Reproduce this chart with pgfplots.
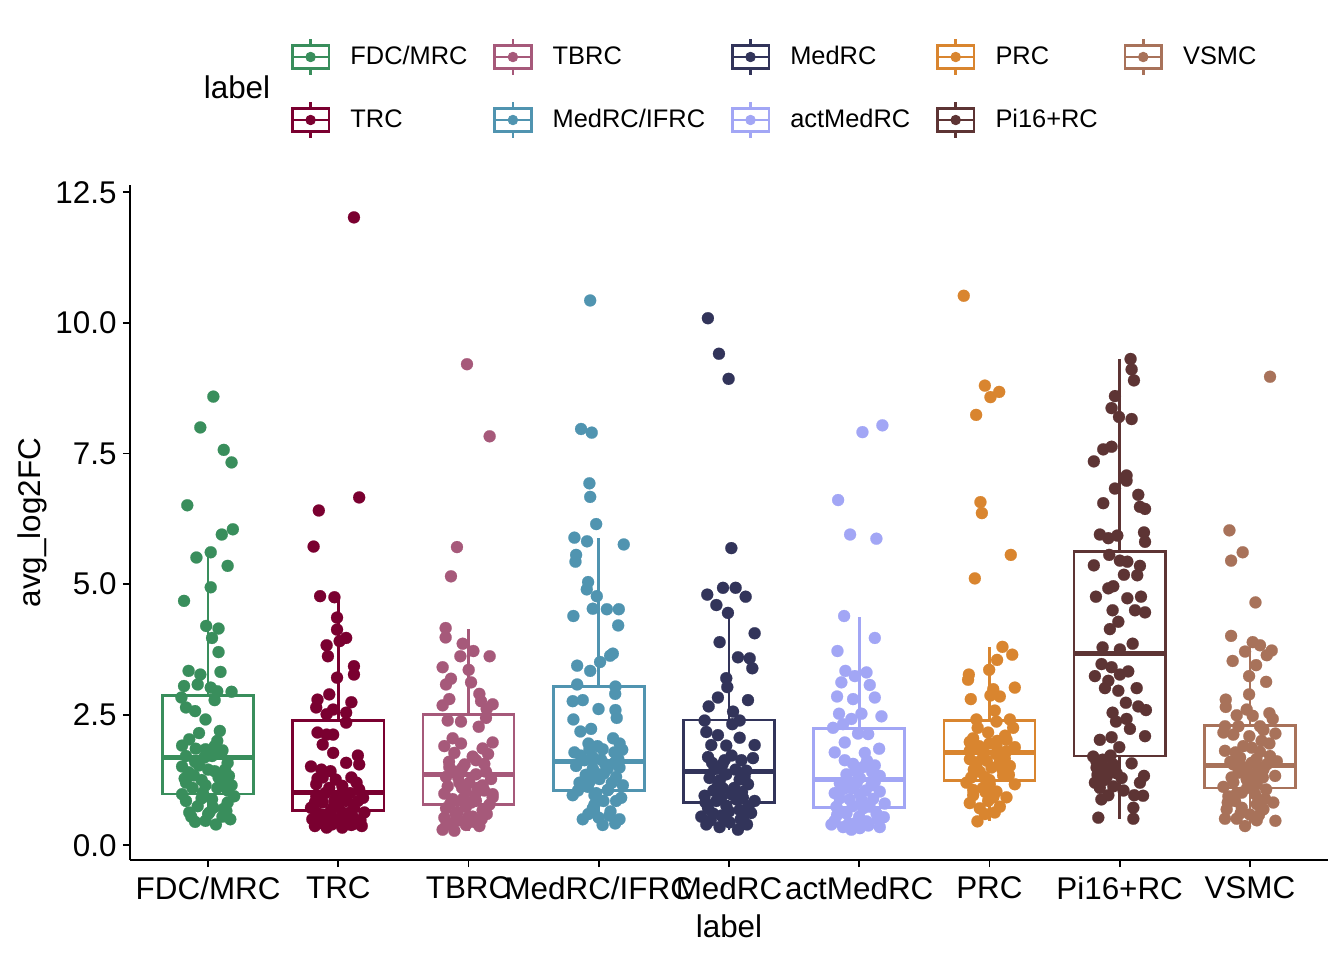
\documentclass[border=0pt]{standalone}
\usepackage{fontspec}
\setmainfont{Liberation Sans}
\usepackage{pgfplots}
\pgfplotsset{compat=1.18}
\usepgfplotslibrary{statistics}
\definecolor{c1}{RGB}{57,142,92}
\definecolor{c2}{RGB}{122,0,48}
\definecolor{c3}{RGB}{166,89,122}
\definecolor{c4}{RGB}{80,148,176}
\definecolor{c5}{RGB}{50,52,90}
\definecolor{c6}{RGB}{162,166,245}
\definecolor{c7}{RGB}{217,133,47}
\definecolor{c8}{RGB}{93,52,52}
\definecolor{c9}{RGB}{168,114,90}
\newcommand\bigf{\fontsize{15.7}{18.8}\selectfont}
\newcommand\legf{\fontsize{12.7}{15}\selectfont}
\pgfplotsset{
  mylegend/.style={legend image code/.code={
    \draw[line width=1.3pt, fill=none] (9.15pt,5.85pt) -- (9.15pt,9.2pt);
    \draw[line width=1.3pt, fill=none] (9.15pt,-5.85pt) -- (9.15pt,-9.2pt);
    \draw[line width=1.3pt, fill=none] (0pt,-5.85pt) rectangle (18.3pt,5.85pt);
    \draw[line width=1.3pt, fill=none] (0pt,0pt) -- (18.3pt,0pt);
    \fill (9.15pt,0pt) circle (2.4pt);
    \path (28.85pt,0pt);
  }},
  bp/.style={line width=1.3pt, solid, forget plot, fill=none},
  pts/.style={only marks, mark=*, mark size=3pt, forget plot, mark options={line width=0.1pt}},
}
\begin{document}
\begin{tikzpicture}
\path[use as bounding box] (-65pt,-50pt) rectangle (607pt,430pt);
\begin{axis}[
  at={(0pt,0pt)}, anchor=south west,
  scale only axis, width=599pt, height=337.5pt,
  xmin=0.4, xmax=9.6, ymin=-0.28, ymax=12.64,
  clip=false,
  axis x line=bottom, axis y line=left,
  axis line style={-, line width=0.9pt, black},
  tick align=outside, major tick length=3.5pt,
  tick style={line width=0.9pt, black},
  xtick={1,2,3,4,5,6,7,8,9},
  xticklabels={FDC/MRC,TRC,TBRC,MedRC/IFRC,MedRC,actMedRC,PRC,Pi16+RC,VSMC},
  ytick={0,2.5,5,7.5,10,12.5},
  ticklabel style={font=\bigf, black},
  xticklabel style={yshift=-1.5pt},
  yticklabel style={inner xsep=3pt, /pgf/number format/.cd, fixed, fixed zerofill, precision=1, assume math mode=true},
  xlabel={label}, ylabel={avg\_log2FC},
  label style={font=\bigf},
  xlabel style={at={(axis description cs:0.5,-0.0978)}, anchor=center},
  ylabel style={at={(axis description cs:-0.0818,0.5)}, anchor=center},
  boxplot/draw direction=y,
  boxplot/every median/.style={line width=2.5pt},
  legend columns=5,
  legend cell align=left,
  legend style={at={(0.1344,1.2188)}, anchor=north west, draw=none, fill=none,
    inner sep=0pt, outer sep=0pt, row sep=11.8pt, font=\legf,
    nodes={inner sep=0pt},
    /tikz/every even column/.append style={column sep=12.9pt}},
]
% ---- legend images (row-major order as in the reference)
\addlegendimage{mylegend, color=c1}\addlegendentry{FDC/MRC}
\addlegendimage{mylegend, color=c3}\addlegendentry{TBRC}
\addlegendimage{mylegend, color=c5}\addlegendentry{MedRC}
\addlegendimage{mylegend, color=c7}\addlegendentry{PRC}
\addlegendimage{mylegend, color=c9}\addlegendentry{VSMC}
\addlegendimage{mylegend, color=c2}\addlegendentry{TRC}
\addlegendimage{mylegend, color=c4}\addlegendentry{MedRC/IFRC}
\addlegendimage{mylegend, color=c6}\addlegendentry{actMedRC}
\addlegendimage{mylegend, color=c8}\addlegendentry{Pi16+RC}

% ---- boxplots
\addplot[bp, draw=c1, boxplot prepared={draw position=1, lower whisker=0.40, lower quartile=0.98, median=1.68, upper quartile=2.87, upper whisker=5.61, box extend=0.7, whisker extend=0}] coordinates {};
\addplot[bp, draw=c2, boxplot prepared={draw position=2, lower whisker=0.34, lower quartile=0.67, median=1.02, upper quartile=2.39, upper whisker=4.77, box extend=0.7, whisker extend=0}] coordinates {};
\addplot[bp, draw=c3, boxplot prepared={draw position=3, lower whisker=0.28, lower quartile=0.78, median=1.36, upper quartile=2.50, upper whisker=4.14, box extend=0.7, whisker extend=0}] coordinates {};
\addplot[bp, draw=c4, boxplot prepared={draw position=4, lower whisker=0.39, lower quartile=1.05, median=1.61, upper quartile=3.04, upper whisker=5.88, box extend=0.7, whisker extend=0}] coordinates {};
\addplot[bp, draw=c5, boxplot prepared={draw position=5, lower whisker=0.30, lower quartile=0.82, median=1.41, upper quartile=2.40, upper whisker=4.50, box extend=0.7, whisker extend=0}] coordinates {};
\addplot[bp, draw=c6, boxplot prepared={draw position=6, lower whisker=0.30, lower quartile=0.73, median=1.27, upper quartile=2.24, upper whisker=4.38, box extend=0.7, whisker extend=0}] coordinates {};
\addplot[bp, draw=c7, boxplot prepared={draw position=7, lower whisker=0.46, lower quartile=1.24, median=1.77, upper quartile=2.39, upper whisker=3.80, box extend=0.7, whisker extend=0}] coordinates {};
\addplot[bp, draw=c8, boxplot prepared={draw position=8, lower whisker=0.50, lower quartile=1.71, median=3.67, upper quartile=5.63, upper whisker=9.31, box extend=0.7, whisker extend=0}] coordinates {};
\addplot[bp, draw=c9, boxplot prepared={draw position=9, lower whisker=0.37, lower quartile=1.10, median=1.53, upper quartile=2.30, upper whisker=3.95, box extend=0.7, whisker extend=0}] coordinates {};

% ---- jittered points
\addplot[pts, color=c1] coordinates {
(1.04,8.59) (0.94,8.00) (1.12,7.57) (1.18,7.33) (0.84,6.51) (1.19,6.05) (1.105,5.95) (1.02,5.61) (0.91,5.51) (1.15,5.35) (1.02,4.94) (0.815,4.68) (0.985,4.20) (1.08,4.15) (1.03,3.97) (1.08,3.70) (0.85,3.34) (1.095,3.32) (0.94,3.27) (0.815,3.05) (0.92,3.08) (1.02,3.02) (1.07,2.95) (1.18,2.94) (0.795,2.83) (1.05,2.78) (0.83,2.64) (0.90,2.57) (0.98,2.41) (1.09,2.19) (0.855,2.03) (0.80,1.91) (1.07,2.00) (0.905,1.85) (0.98,1.84) (1.11,1.82) (0.83,1.71) (1.03,1.71) (1.15,1.58) (0.80,1.51) (0.93,1.53) (1.05,1.42) (0.89,1.34) (1.16,1.33) (0.83,1.20) (0.98,1.15) (1.10,1.20) (0.80,0.98) (0.96,1.01) (1.20,0.94) (0.83,0.85) (1.03,0.88) (1.15,0.82) (0.855,0.63) (1.01,0.63) (1.14,0.66) (0.98,0.47) (1.06,0.40) (1.17,0.50) (1.11,0.55) (0.90,1.60) (1.00,1.45) (1.10,1.75) (0.95,1.25) (1.05,1.90) (0.85,1.40) (1.15,1.05) (0.92,0.75) (1.00,0.60) (1.08,1.30) (0.88,1.10) (1.12,0.70)
(0.87,0.55) (0.95,0.90) (1.07,1.10) (1.13,1.45) (0.82,1.28) (0.97,1.68) (1.04,0.72) (0.90,0.45) (1.18,1.15) (0.93,2.15)
};
\addplot[pts, color=c2] coordinates {
(2.12,12.02) (2.16,6.66) (1.85,6.41) (1.81,5.72) (1.86,4.77) (1.97,4.75) (1.99,4.36) (1.99,4.13) (2.06,3.97) (2.01,3.91) (1.91,3.83) (1.92,3.62) (2.12,3.43) (2.12,3.27) (1.99,3.21) (1.93,2.89) (1.84,2.79) (2.10,2.74) (1.83,2.64) (1.96,2.60) (2.06,2.54) (1.91,2.51) (2.06,2.35) (1.84,2.16) (1.91,2.12) (1.96,2.12) (1.88,1.93) (1.96,1.77) (2.15,1.72) (2.06,1.58) (2.16,1.55) (1.79,1.51) (1.87,1.45) (1.94,1.42) (1.88,1.30) (1.98,1.26) (2.10,1.30) (1.83,1.17) (1.93,1.10) (2.03,1.14) (2.16,1.07) (1.83,0.94) (1.98,0.91) (2.19,0.91) (1.88,0.82) (2.06,0.85) (1.79,0.72) (1.96,0.72) (2.12,0.72) (1.83,0.63) (2.03,0.63) (2.20,0.63) (1.91,0.56) (2.11,0.55) (1.80,0.50) (1.98,0.47) (2.17,0.48) (1.82,0.37) (1.91,0.34) (2.03,0.34) (2.18,0.37) (1.95,0.40) (2.10,0.39) (1.85,0.60) (2.00,0.75) (2.15,0.85) (1.90,1.00) (2.05,0.45) (1.95,0.55) (2.08,0.62) (1.88,0.42) (2.02,0.98)
(1.82,0.82) (1.94,0.65) (2.07,0.55) (2.13,0.42) (1.86,0.52) (2.01,0.43) (1.97,0.85) (2.09,1.00) (1.84,1.28) (2.14,1.20)
};
\addplot[pts, color=c3] coordinates {
(2.988,9.21) (3.162,7.83) (2.911,5.71) (2.865,5.15) (2.824,4.16) (2.824,3.98) (2.955,3.86) (3.037,3.72) (2.937,3.62) (3.162,3.62) (2.801,3.41) (3.001,3.36) (2.865,3.19) (3.019,3.12) (2.827,3.08) (3.083,2.90) (2.852,2.80) (3.185,2.70) (2.801,2.68) (3.139,2.61) (3.096,2.76) (2.84,2.39) (2.942,2.37) (3.134,2.44) (3.078,2.27) (2.878,2.05) (2.814,1.90) (2.942,1.95) (3.185,1.97) (3.108,1.855) (2.891,1.77) (3.032,1.70) (2.852,1.50) (3.121,1.56) (2.955,1.49) (3.057,1.36) (2.827,1.31) (3.173,1.27) (2.929,1.20) (3.108,1.15) (2.814,0.99) (2.98,1.03) (3.185,0.98) (2.878,0.885) (3.057,0.85) (3.16,0.78) (2.827,0.71) (2.98,0.74) (2.916,0.64) (3.108,0.67) (2.814,0.53) (3.032,0.55) (2.878,0.43) (2.98,0.39) (3.083,0.37) (2.801,0.30) (2.891,0.28) (3.185,0.92) (3.006,1.20) (2.955,0.85) (3.134,1.41) (2.904,1.41) (3.057,1.63) (2.84,1.13) (2.95,1.10) (3.05,0.95) (2.90,0.60) (3.10,0.50) (2.85,1.60) (3.00,0.55) (3.12,1.05) (2.96,0.90)
(2.83,0.40) (2.93,0.48) (3.04,0.45) (3.14,0.60) (2.86,0.80) (3.02,0.82) (2.92,1.30) (3.07,1.10) (2.97,1.55) (3.15,1.75)
};
\addplot[pts, color=c4] coordinates {
(3.934,10.43) (3.864,7.97) (3.946,7.90) (3.928,6.93) (3.934,6.67) (3.98,6.15) (3.813,5.89) (3.91,5.82) (4.192,5.76) (3.826,5.56) (3.821,5.43) (3.918,5.04) (3.908,4.90) (3.985,4.77) (3.805,4.39) (3.954,4.53) (4.062,4.52) (4.154,4.52) (4.149,4.21) (4.108,3.67) (4.087,3.63) (3.834,3.44) (4.010,3.51) (3.934,3.34) (3.834,3.08) (4.128,3.04) (4.126,2.90) (3.80,2.76) (3.877,2.78) (3.998,2.61) (4.128,2.59) (4.138,2.44) (3.805,2.41) (3.859,2.18) (3.941,2.23) (3.921,1.95) (3.813,1.78) (3.928,1.84) (4.12,1.78) (4.18,1.83) (4.018,1.64) (3.826,1.52) (3.954,1.47) (4.069,1.47) (4.159,1.49) (3.852,1.20) (4.005,1.27) (4.133,1.31) (3.916,1.12) (4.069,1.06) (4.185,1.15) (3.80,0.96) (3.967,0.96) (4.036,0.85) (4.133,0.85) (3.967,0.78) (4.172,0.91) (3.877,0.50) (4.0,0.53) (4.082,0.57) (4.126,0.42) (4.03,0.39) (4.159,0.50) (3.954,0.71) (4.07,1.06) (3.89,1.63) (4.03,1.84) (4.11,2.05) (3.95,1.70) (4.05,1.55) (3.90,1.35) (4.10,1.20) (3.98,1.00) (4.15,1.65)
(3.84,1.05) (3.93,1.22) (4.04,1.38) (4.12,1.58) (3.86,1.72) (3.99,1.90) (4.09,0.65) (3.92,0.60) (4.16,1.95) (3.97,1.40)
};
\addplot[pts, color=c5] coordinates {
(4.838,10.09) (4.923,9.41) (4.997,8.93) (5.018,5.69) (4.833,4.80) (4.954,4.93) (5.051,4.93) (5.128,4.76) (4.903,4.60) (4.992,4.45) (5.197,4.06) (4.928,3.89) (5.069,3.60) (5.159,3.58) (5.179,3.39) (4.979,3.20) (4.987,3.03) (4.915,2.83) (5.146,2.78) (4.844,2.66) (5.031,2.56) (4.813,2.39) (5.025,2.32) (5.082,2.39) (4.826,2.17) (4.915,2.11) (5.082,2.06) (4.864,1.92) (4.979,1.91) (5.197,1.92) (4.839,1.69) (4.966,1.63) (5.095,1.63) (5.184,1.67) (4.851,1.29) (4.979,1.36) (5.082,1.26) (5.146,1.17) (4.915,1.14) (4.813,0.95) (5.018,0.98) (5.107,0.91) (5.197,0.85) (4.903,0.85) (4.839,0.71) (4.979,0.76) (5.082,0.68) (4.787,0.55) (4.941,0.57) (5.12,0.59) (4.826,0.40) (4.928,0.35) (5.069,0.30) (5.138,0.40) (5.005,0.44) (4.877,0.61) (5.056,0.88) (4.954,1.09) (5.133,1.43) (4.89,1.46) (4.95,1.55) (5.05,1.45) (4.88,1.05) (5.0,0.65) (5.15,0.75) (4.93,1.25) (5.04,1.10)
(4.86,0.48) (4.96,0.52) (5.09,0.50) (5.17,0.62) (4.82,0.82) (4.94,0.92) (5.10,1.02) (4.87,1.58) (5.02,1.72) (5.12,1.32)
};
\addplot[pts, color=c6] coordinates {
(6.178,8.04) (6.025,7.91) (5.838,6.61) (5.93,5.95) (6.132,5.87) (5.884,4.39) (6.12,3.97) (5.833,3.72) (5.894,3.34) (6.056,3.31) (5.966,3.24) (5.863,3.12) (6.081,3.07) (6.12,2.83) (5.83,2.85) (5.953,2.80) (5.845,2.52) (6.017,2.52) (6.171,2.47) (5.94,2.42) (5.799,2.25) (5.876,2.32) (5.991,2.14) (6.069,2.13) (5.889,1.97) (6.153,1.85) (5.812,1.78) (6.043,1.77) (5.889,1.63) (5.953,1.56) (6.12,1.53) (6.03,1.50) (5.902,1.36) (6.005,1.29) (6.158,1.33) (5.851,1.19) (6.094,1.15) (5.94,1.09) (5.812,1.00) (6.158,1.03) (6.005,0.98) (5.927,0.88) (6.107,0.89) (6.196,0.80) (5.825,0.74) (6.03,0.71) (5.902,0.61) (6.133,0.61) (6.189,0.54) (5.812,0.47) (5.979,0.44) (6.056,0.46) (5.876,0.35) (5.94,0.30) (6.005,0.33) (6.158,0.35) (5.787,0.40) (6.08,0.74) (5.98,1.19) (5.90,1.20) (6.05,1.05) (5.95,0.75) (6.10,1.40) (5.85,0.90) (6.00,0.55)
(5.83,0.58) (5.92,0.42) (6.07,0.38) (6.14,0.50) (5.87,0.64) (6.02,0.86) (6.12,1.22) (5.88,1.08) (5.97,1.42) (6.06,1.62)
};
\addplot[pts, color=c7] coordinates {
(6.803,10.52) (6.965,8.80) (7.075,8.68) (7.008,8.58) (6.898,8.24) (6.931,6.57) (6.942,6.36) (7.164,5.56) (6.888,5.11) (7.10,3.80) (7.175,3.65) (7.059,3.55) (6.998,3.36) (6.842,3.27) (6.836,3.17) (7.195,3.02) (7.029,2.99) (6.857,2.80) (7.08,2.85) (7.008,2.87) (7.041,2.58) (6.90,2.41) (7.182,2.25) (7.054,2.37) (6.875,2.05) (6.99,2.16) (7.131,2.02) (7.195,1.88) (6.849,1.81) (7.054,1.91) (6.952,1.70) (7.093,1.70) (6.90,1.59) (7.157,1.52) (7.016,1.49) (6.824,1.20) (6.965,1.31) (7.105,1.34) (7.195,1.17) (6.875,1.06) (7.054,1.03) (7.131,0.92) (6.849,0.81) (6.99,0.85) (7.08,0.74) (6.926,0.71) (7.041,0.63) (6.965,0.60) (6.908,0.46) (6.875,0.96) (7.003,1.17) (6.926,1.41) (7.118,1.66) (6.849,1.98) (7.157,2.41) (6.95,1.85) (7.05,1.75) (6.90,1.55) (7.10,1.45) (7.00,1.95) (6.85,1.65) (7.12,2.10) (7.00,1.25) (6.95,1.10) (7.08,1.60)
(6.88,1.45) (6.98,1.62) (7.13,1.80) (6.92,1.90) (7.06,2.00) (6.86,1.30) (7.15,1.35) (6.97,1.02) (7.03,0.92) (6.91,2.25)
};
\addplot[pts, color=c8] coordinates {
(8.084,9.31) (8.092,9.11) (8.11,8.90) (7.964,8.60) (7.938,8.37) (7.995,8.20) (8.092,8.16) (7.874,7.58) (7.938,7.63) (7.802,7.35) (8.053,7.08) (8.053,6.98) (7.964,6.83) (8.143,6.71) (7.874,6.55) (8.156,6.48) (8.195,6.44) (7.848,5.95) (7.913,5.88) (7.982,5.93) (8.187,5.99) (8.195,5.81) (7.92,5.56) (8.002,5.45) (8.059,5.43) (7.802,5.36) (8.156,5.35) (8.033,5.18) (8.135,5.17) (7.951,4.96) (7.913,4.92) (7.818,4.76) (8.059,4.73) (8.164,4.76) (8.118,4.50) (8.195,4.46) (7.946,4.50) (7.99,4.28) (7.925,4.14) (7.869,3.79) (8.002,3.75) (8.10,3.86) (7.861,3.47) (7.938,3.41) (8.066,3.33) (7.810,3.24) (8.002,3.27) (7.913,3.15) (7.887,3.01) (7.99,2.96) (8.131,3.01) (8.048,2.73) (8.143,2.66) (8.202,2.59) (7.946,2.54) (8.053,2.42) (7.972,2.37) (8.079,2.23) (8.195,2.09) (7.848,2.02) (7.938,2.07) (7.997,1.88) (7.797,1.70) (7.869,1.64) (8.092,1.57) (7.823,1.49) (7.938,1.41) (8.015,1.29) (7.90,1.31) (8.187,1.33) (8.156,1.20) (7.81,1.20) (7.848,1.10) (7.951,1.13) (7.913,0.96) (8.112,0.96) (8.105,0.72) (7.836,0.53) (8.105,0.51) (7.887,1.49) (7.977,1.38)
(7.83,1.35) (7.95,1.55) (8.03,1.05) (7.88,1.25) (7.82,1.62) (7.93,1.72) (8.18,0.95) (7.86,0.88)
};
\addplot[pts, color=c9] coordinates {
(9.155,8.97) (8.843,6.03) (8.945,5.61) (8.856,5.45) (9.043,4.65) (8.856,4.01) (9.022,3.89) (9.078,3.83) (9.168,3.73) (8.963,3.71) (9.13,3.64) (8.868,3.53) (9.048,3.45) (8.994,3.24) (9.125,3.13) (8.994,2.89) (8.815,2.79) (8.815,2.65) (8.976,2.60) (9.15,2.53) (8.899,2.49) (9.176,2.42) (9.022,2.48) (8.809,2.28) (8.912,2.28) (9.078,2.28) (8.797,2.16) (8.873,2.12) (8.996,2.09) (9.196,2.14) (9.104,2.21) (8.809,1.81) (9.014,1.87) (9.078,1.79) (9.155,1.71) (8.925,1.68) (9.207,1.61) (8.873,1.55) (9.014,1.58) (9.104,1.45) (9.194,1.33) (8.912,1.39) (8.976,1.26) (8.797,1.12) (8.873,1.21) (9.053,1.17) (9.125,1.07) (8.835,0.94) (8.938,1.01) (9.04,0.98) (8.886,0.85) (9.117,0.89) (8.822,0.69) (8.938,0.72) (9.053,0.79) (9.104,0.69) (8.809,0.51) (8.899,0.51) (9.053,0.48) (9.196,0.47) (8.963,0.37) (9.0,0.59) (8.976,1.45) (9.05,1.39) (8.95,1.90) (8.95,1.50) (9.05,1.65) (9.10,1.30) (8.90,1.00) (9.00,1.20) (8.85,1.60) (9.15,1.95)
(8.83,0.82) (8.93,0.62) (9.07,0.58) (9.18,0.82) (8.86,1.30) (8.98,1.10) (9.13,1.55) (8.89,1.78) (9.02,1.35) (9.09,2.00)
};
\end{axis}
\node[font=\bigf, inner sep=0pt] at (53.5pt,386.5pt) {label};
\end{tikzpicture}
\end{document}
